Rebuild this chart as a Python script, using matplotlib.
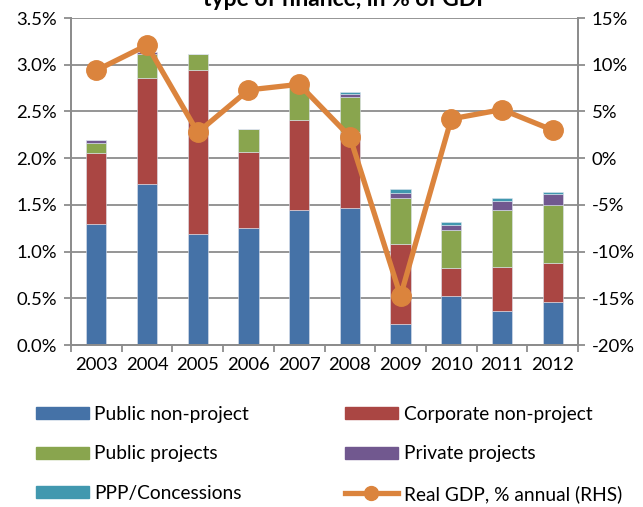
import matplotlib
matplotlib.use("Agg")
import matplotlib.pyplot as plt
import numpy as np
from matplotlib.lines import Line2D
from matplotlib.patches import Patch

plt.rcParams['font.family'] = ['Lato', 'DejaVu Sans']

years = ['2003', '2004', '2005', '2006', '2007', '2008', '2009', '2010', '2011', '2012']
public_non_project = [1.30, 1.725, 1.19, 1.25, 1.44, 1.47, 0.23, 0.52, 0.36, 0.455]
corporate_non_project = [0.75, 1.135, 1.75, 0.82, 0.97, 0.815, 0.855, 0.30, 0.47, 0.425]
public_projects = [0.11, 0.26, 0.17, 0.245, 0.35, 0.37, 0.485, 0.415, 0.615, 0.615]
private_projects = [0.03, 0.02, 0.0, 0.0, 0.0, 0.035, 0.06, 0.05, 0.10, 0.12]
ppp_concessions = [0.005, 0.0, 0.0, 0.0, 0.0, 0.015, 0.045, 0.03, 0.03, 0.02]
real_gdp = [9.4, 12.1, 2.75, 7.3, 7.9, 2.3, -14.75, 4.2, 5.2, 3.0]

series = [
    ("Public non-project", public_non_project, "#4572A7"),
    ("Corporate non-project", corporate_non_project, "#AA4643"),
    ("Public projects", public_projects, "#89A54E"),
    ("Private projects", private_projects, "#71588F"),
    ("PPP/Concessions", ppp_concessions, "#4198AF"),
]
gdp_color = "#DB843D"
grid_color = "#8C8C8C"

W, H = 643, 507
fig = plt.figure(figsize=(W / 100, H / 100), dpi=100)
ax = fig.add_axes([71 / W, 1 - 345 / H, (578 - 71) / W, (345 - 18) / H])

x = np.arange(len(years))
bottom = np.zeros(len(years))
for name, vals, col in series:
    v = np.array(vals)
    ax.bar(x, v, 0.4, bottom=bottom, color=col, edgecolor='#DDE3EE', linewidth=0.4, label=name, zorder=2)
    bottom += v

ax.set_xlim(-0.5, len(years) - 0.5)
ax.set_ylim(0, 3.5)
lt = np.arange(0, 3.51, 0.5)
ax.set_yticks(lt)
ax.set_yticklabels([f"{t:.1f}%" for t in lt])
ax.yaxis.grid(True, color=grid_color, linewidth=1.3, zorder=0)
ax.set_axisbelow(True)
ax.set_xticks(x)
ax.set_xticklabels(years)
ax.set_xticks(np.arange(-0.5, len(years)), minor=True)
ax.tick_params(axis='x', which='major', length=0, pad=9, labelsize=13.3)
ax.tick_params(axis='x', which='minor', length=5, color=grid_color, width=1.3)
ax.tick_params(axis='y', length=5, color=grid_color, width=1.3, labelsize=13.3, pad=5)
for s in ['left', 'bottom', 'right']:
    ax.spines[s].set_color(grid_color)
    ax.spines[s].set_linewidth(1.3)
ax.spines['top'].set_visible(False)

ax2 = ax.twinx()
ax2.plot(x, real_gdp, color=gdp_color, linewidth=3.8, marker='o', markersize=14, zorder=5)
ax2.set_ylim(-20, 15)
rt = np.arange(-20, 16, 5)
ax2.set_yticks(rt)
ax2.set_yticklabels([f"{int(t)}%" for t in rt])
ax2.tick_params(axis='y', length=5, color=grid_color, width=1.3, labelsize=13.3, pad=5)
for s in ['left', 'bottom', 'right']:
    ax2.spines[s].set_color(grid_color)
    ax2.spines[s].set_linewidth(1.3)
ax2.spines['top'].set_visible(False)

fig.text(347 / W, 1 - 6 / H, "type of finance, in % of GDP", ha='center', va='baseline',
         fontsize=16.5, fontweight='bold')

handles = [
    Patch(color=series[0][2], label=series[0][0]),
    Patch(color=series[2][2], label=series[2][0]),
    Patch(color=series[4][2], label=series[4][0]),
    Patch(color=series[1][2], label=series[1][0]),
    Patch(color=series[3][2], label=series[3][0]),
    Line2D([0], [0], color=gdp_color, linewidth=3.8, marker='o', markersize=10, label="Real GDP, % annual (RHS)"),
]
fs = 13.8
fig.legend(handles=handles, ncol=2, loc='upper left', bbox_to_anchor=(36 / W, 1 - 406 / H),
           frameon=False, fontsize=fs, handlelength=2.75, handleheight=0.6,
           handletextpad=0.3, labelspacing=1.17, columnspacing=5.0,
           borderpad=0, borderaxespad=0)

fig.savefig("out.png", dpi=100)
